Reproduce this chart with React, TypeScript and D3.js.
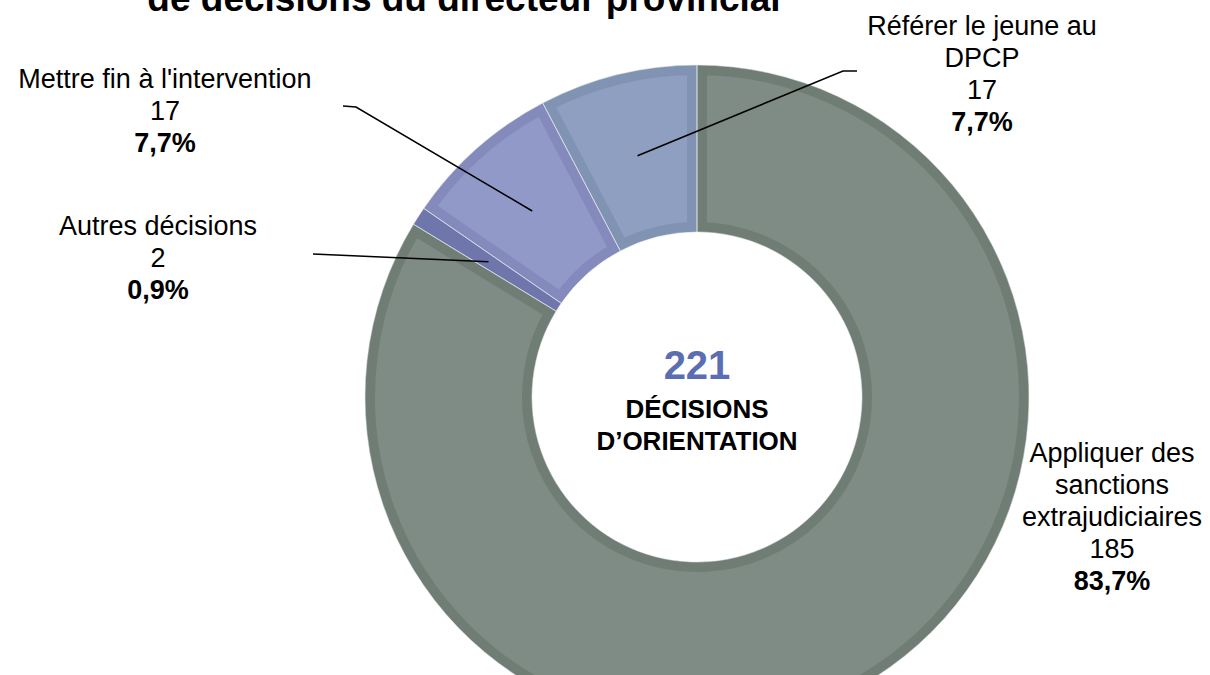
import React from "react";
import { pie, arc, line } from "d3";

// data
const categories = [
  "Appliquer des sanctions extrajudiciaires",
  "Autres décisions",
  "Mettre fin à l'intervention",
  "Référer le jeune au DPCP",
];
const counts = [185, 2, 17, 17];
const percents = ["83,7%", "0,9%", "7,7%", "7,7%"];
const labelLines = [
  ["Appliquer des", "sanctions", "extrajudiciaires"],
  ["Autres décisions"],
  ["Mettre fin à l'intervention"],
  ["Référer le jeune au", "DPCP"],
];
const total = 221;
const titleLine = "de décisions du directeur provincial";

// styles
const fills = ["#7f8b85", "#6f77ad", "#9199c9", "#8e9fc2"];
const borders = ["#6f7d75", "#6e76ab", "#848abb", "#8193b3"];
const fontFamily = "'Liberation Sans', Arial, Helvetica, sans-serif";

// layout: label centre x, first baseline y, leader elbow points (null = none)
const labelPos = [
  { x: 1112, y: 462, leader: null },
  { x: 158, y: 235, leader: [[313, 254]] },
  { x: 165, y: 88, leader: [[356, 107], [343, 106]] },
  { x: 982, y: 35, leader: [[843, 71], [857, 71]] },
];

const width = 1210;
const height = 675;
const cx = 697;
const cy = 397;
const outerR = 332;
const innerR = 165;
const lineStep = 32;

export default function App() {
  const data = categories.map((c, i) => ({ name: c, value: counts[i], i }));
  const arcs = pie<any>().value((d) => d.value).sort(null).startAngle(0).endAngle(2 * Math.PI)(data);
  const arcGen = arc<any>().innerRadius(innerR).outerRadius(outerR);
  const lineGen = line();

  return (
    <svg
      width={width}
      height={height}
      style={{ position: "absolute", left: 0, top: 0, background: "#fff" }}
      fontFamily={fontFamily}
    >
      <text x={464} y={11} textAnchor="middle" fontWeight="bold" fontSize={37} fill="#000">
        {titleLine}
      </text>

      <g transform={`translate(${cx},${cy})`}>
        <defs>
          {arcs.map((a, i) => (
            <clipPath id={"sliceclip" + i} key={i}>
              <path d={arcGen(a) || ""} />
            </clipPath>
          ))}
        </defs>
        {arcs.map((a, i) => (
          <path
            key={i}
            d={arcGen(a) || ""}
            fill={fills[i]}
            stroke={borders[i]}
            strokeWidth={20}
            clipPath={`url(#sliceclip${i})`}
          />
        ))}
        {arcs.map((a, i) => (
          <path
            key={"s" + i}
            d={arcGen(a) || ""}
            fill="none"
            stroke="#e6e9ec"
            strokeOpacity={0.6}
            strokeWidth={1}
          />
        ))}
      </g>

      {arcs.map((a, i) => {
        const p = labelPos[i];
        if (!p.leader) return null;
        const c = arcGen.centroid(a);
        const pts: [number, number][] = [[cx + c[0], cy + c[1]], ...(p.leader as [number, number][])];
        return <path key={"l" + i} d={lineGen(pts) || ""} fill="none" stroke="#000" strokeWidth={1.5} />;
      })}

      {arcs.map((a, i) => {
        const p = labelPos[i];
        const rows = labelLines[i];
        return (
          <text key={"t" + i} textAnchor="middle" fontSize={27} fill="#000">
            {rows.map((r, k) => (
              <tspan key={k} x={p.x} y={p.y + k * lineStep}>
                {r}
              </tspan>
            ))}
            <tspan x={p.x} y={p.y + rows.length * lineStep}>
              {counts[i]}
            </tspan>
            <tspan x={p.x} y={p.y + (rows.length + 1) * lineStep} fontWeight="bold">
              {percents[i]}
            </tspan>
          </text>
        );
      })}

      <text x={cx} y={379} textAnchor="middle" fontWeight="bold" fontSize={40} fill="#5b6db3">
        {total}
      </text>
      <text x={cx} y={418} textAnchor="middle" fontWeight="bold" fontSize={26} fill="#000">
        DÉCISIONS
      </text>
      <text x={cx} y={450} textAnchor="middle" fontWeight="bold" fontSize={26} fill="#000">
        D’ORIENTATION
      </text>
    </svg>
  );
}
